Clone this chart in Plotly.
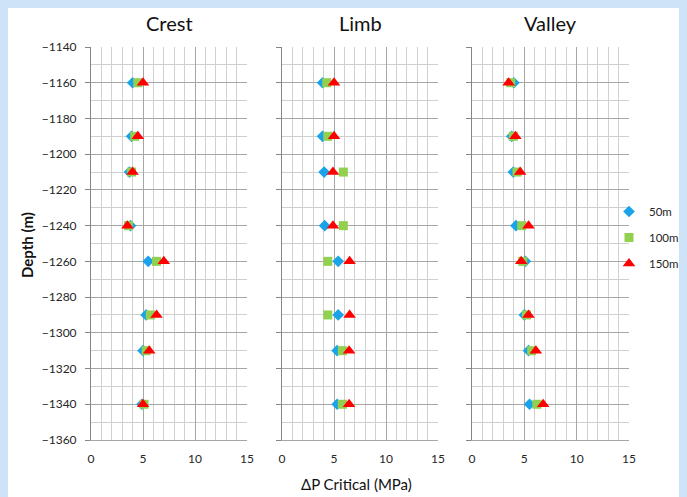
import plotly.graph_objects as go

depths = [-1160, -1190, -1210, -1240, -1260, -1290, -1310, -1340]
crest_50 = [4.0, 3.9, 3.7, 3.8, 5.5, 5.3, 5.0, 4.9]
crest_100 = [4.5, 4.2, 3.9, 3.6, 6.3, 5.7, 5.3, 5.1]
crest_150 = [5.0, 4.5, 4.0, 3.5, 7.0, 6.3, 5.6, 5.0]
limb_50 = [3.9, 3.9, 4.05, 4.1, 5.4, 5.4, 5.3, 5.3]
limb_100 = [4.3, 4.4, 5.9, 5.9, 4.4, 4.4, 5.8, 5.8]
limb_150 = [5.0, 5.0, 4.9, 4.9, 6.5, 6.5, 6.45, 6.45]
valley_50 = [4.0, 3.8, 3.95, 4.2, 5.1, 5.0, 5.4, 5.5]
valley_100 = [3.7, 3.95, 4.3, 4.75, 4.85, 5.2, 5.7, 6.2]
valley_150 = [3.5, 4.15, 4.6, 5.4, 4.7, 5.4, 6.1, 6.8]

panels = ["Crest", "Limb", "Valley"]
series_names = ["50m", "100m", "150m"]
panel_data = [
    [crest_50, crest_100, crest_150],
    [limb_50, limb_100, limb_150],
    [valley_50, valley_100, valley_150],
]
x_ticks = [0, 5, 10, 15]
y_ticks = list(range(-1360, -1139, 20))

symbols = ["diamond", "square", "triangle-up"]
colors = ["#1AA3E8", "#92D050", "#FF0000"]
sizes = [9, 9, 11]

FONT = "Lato"
TXT = "#262626"

fig = go.Figure()
for p, (pname, pdata) in enumerate(zip(panels, panel_data)):
    xa = "x" if p == 0 else f"x{p+1}"
    ya = "y" if p == 0 else f"y{p+1}"
    for s, vals in enumerate(pdata):
        fig.add_trace(go.Scatter(
            x=vals, y=depths, mode="markers", name=series_names[s],
            marker=dict(symbol=symbols[s], color=colors[s], size=sizes[s], line=dict(width=0)),
            xaxis=xa, yaxis=ya, showlegend=(p == 0), legendgroup=series_names[s],
        ))

# page offset of 8px (body margin): screen = figure + 8
OFF = 8
W, H = 687 - OFF, 497 - OFF
sx0, sx1, sy0, sy1 = 91, 629, 47, 440   # plot area in screen pixels
L, R, T, B = sx0 - OFF, W - (sx1 - OFF), sy0 - OFF, H - (sy1 - OFF)
pw = W - L - R
ph = H - T - B
edges = [(91, 247), (282, 438), (472, 629)]
domains = [[(a - sx0) / pw, (b - sx0) / pw] for a, b in edges]

def px(x):
    return (x - sx0) / pw

def py(y):
    return (sy1 - y) / ph

def xaxis(i):
    return dict(
        domain=domains[i], range=[0, 15], tickvals=x_ticks, ticktext=[str(v) for v in x_ticks],
        showgrid=True, gridcolor="#A6A6A6", gridwidth=1,
        minor=dict(dtick=1, showgrid=True, gridcolor="#D0D0D0", gridwidth=1, ticks=""),
        showline=True, linecolor="#A6A6A6", linewidth=1, mirror=False,
        ticks="outside", ticklen=8, tickcolor="rgba(0,0,0,0)",
        tickfont=dict(family=FONT, size=12, color=TXT), zeroline=False,
        anchor="y" if i == 0 else f"y{i+1}", fixedrange=True,
    )

def yaxis(i):
    return dict(
        domain=[0, 1], range=[-1360, -1140], tickvals=y_ticks,
        showticklabels=(i == 0),
        showgrid=True, gridcolor="#A6A6A6", gridwidth=1,
        minor=dict(dtick=10, showgrid=True, gridcolor="#D0D0D0", gridwidth=1, ticks=""),
        showline=True, linecolor="#868686", linewidth=1,
        ticks="outside", ticklen=5, tickcolor="#868686",
        ticklabelstandoff=6,
        tickfont=dict(family=FONT, size=12, color=TXT), zeroline=False,
        anchor="x" if i == 0 else f"x{i+1}", fixedrange=True,
    )

layout = dict(
    width=W, height=H,
    margin=dict(l=L, r=R, t=T, b=B, pad=0, autoexpand=False),
    paper_bgcolor="white", plot_bgcolor="white",
    showlegend=True,
    legend=dict(x=px(609), xanchor="left", y=py(197), yanchor="top",
                font=dict(family=FONT, size=11.5, color=TXT), tracegroupgap=7,
                bgcolor="rgba(0,0,0,0)", itemwidth=30, borderwidth=0),
)
for i in range(3):
    layout["xaxis" if i == 0 else f"xaxis{i+1}"] = xaxis(i)
    layout["yaxis" if i == 0 else f"yaxis{i+1}"] = yaxis(i)
fig.update_layout(**layout)

for i, name in enumerate(panels):
    xc = (domains[i][0] + domains[i][1]) / 2
    fig.add_annotation(text=name, x=xc, y=py(23), xref="paper", yref="paper",
                       showarrow=False, xanchor="center", yanchor="middle",
                       font=dict(family=FONT, size=20, color="#111111"))

fig.add_annotation(text="<b>Depth (m)</b>", x=px(27), y=py(245),
                   xref="paper", yref="paper", showarrow=False, textangle=-90,
                   xanchor="center", yanchor="middle",
                   font=dict(family=FONT, size=15, color="#111111"))
fig.add_annotation(text="ΔP Critical (MPa)", x=px(356), y=py(484),
                   xref="paper", yref="paper", showarrow=False,
                   xanchor="center", yanchor="middle",
                   font=dict(family=FONT, size=15, color="#111111"))

fig.write_html("out.html",
               post_script="document.body.style.background='#CFE3F8';")
